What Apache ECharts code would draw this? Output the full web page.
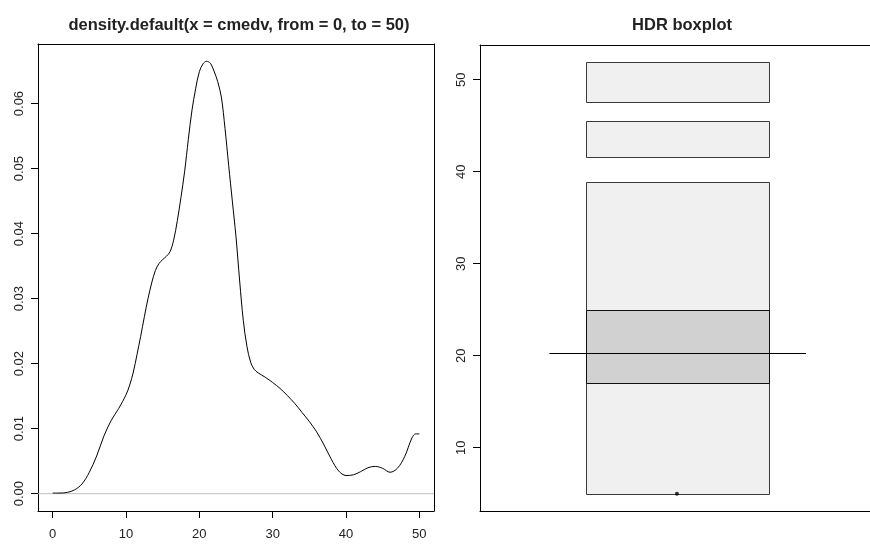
<!DOCTYPE html>
<html>
<head>
<meta charset="utf-8">
<script src="https://cdn.jsdelivr.net/npm/echarts@6/dist/echarts.min.js"></script>
<style>
  html, body { margin: 0; padding: 0; background: #ffffff; }
  #chart { width: 870px; height: 545px; }
</style>
</head>
<body>
<div id="chart"></div>
<script>
// Kernel density estimate of cmedv, evaluated on [0, 50]
const densityX = [0, 1, 2, 3, 4, 5, 6, 7, 8, 9, 10, 10.5, 11, 11.5, 12, 12.5, 13, 13.5, 14, 14.5,
  15, 15.5, 16, 16.5, 17, 17.5, 18, 18.5, 19, 19.5, 20, 20.5, 21, 21.5, 22, 22.5, 23, 23.5, 24, 24.5,
  25, 25.5, 26, 26.5, 27, 27.5, 28, 29, 30, 31, 32, 33, 34, 35, 36, 37, 38, 39, 40, 41,
  42, 43, 44, 45, 46, 47, 48, 49, 49.5, 50];
const densityY = [0.0001, 0.0001, 0.0002, 0.0006, 0.0015, 0.0033, 0.0058, 0.0089, 0.0113, 0.0131, 0.0152, 0.0167, 0.0187, 0.0214, 0.0242, 0.0272, 0.0300, 0.0324, 0.0343, 0.0354,
  0.0360, 0.0365, 0.0372, 0.0390, 0.0420, 0.0456, 0.0496, 0.0545, 0.0590, 0.0623, 0.0649, 0.0661, 0.0665, 0.0662, 0.0650, 0.0634, 0.0610, 0.0562, 0.0505, 0.0450,
  0.0395, 0.0327, 0.0266, 0.0226, 0.0202, 0.0191, 0.0186, 0.0179, 0.0171, 0.0162, 0.0151, 0.0139, 0.0125, 0.0111, 0.0095, 0.0075, 0.0053, 0.0035, 0.0028, 0.0029,
  0.0034, 0.0040, 0.0042, 0.0039, 0.0033, 0.0039, 0.0057, 0.0086, 0.0092, 0.0092];

// Axis ticks
const densityXTicks = [0, 10, 20, 30, 40, 50];
const densityYTicks = [0, 0.01, 0.02, 0.03, 0.04, 0.05, 0.06];
const hdrYTicks = [10, 20, 30, 40, 50];

// HDR boxplot regions: [lower, upper]
const hdr99Regions = [[5.0, 38.9], [41.6, 45.5], [47.6, 51.9]];
const hdr50Regions = [[17.0, 25.0]];
const hdrMode = [20.35];
const hdrOutliers = [5.0];

const densityTitle = 'density.default(x = cmedv, from = 0, to = 50)';
const hdrTitle = 'HDR boxplot';

const FONT = '"Liberation Sans", Arial, Helvetica, sans-serif';
const labelStyle = { color: '#222', fontSize: 13, fontFamily: FONT };
const frameLine = { show: true, onZero: false, lineStyle: { color: '#000', width: 1 } };
const titleStyle = { fontFamily: FONT, fontSize: 16.5, fontWeight: 'bold', color: '#222' };

// Density range padded by 4% like R's default axis extent
const dMax = Math.max(...densityY);
const yPad = dMax * 0.04;
const hdrLo = 5.0, hdrHi = 51.9, hdrPad = (hdrHi - hdrLo) * 0.04;

// Box horizontal placement in the unit-wide boxplot axis
const BOX_L = 0.272, BOX_R = 0.740, MODE_L = 0.178, MODE_R = 0.836, CENTER = 0.505;

function boxRenderer(fill, stroke) {
  return function (params, api) {
    const lo = api.value(0), hi = api.value(1);
    const a = api.coord([BOX_L, hi]);
    const b = api.coord([BOX_R, lo]);
    const x0 = Math.round(a[0]) + 0.5, y0 = Math.round(a[1]) + 0.5;
    const x1 = Math.round(b[0]) + 0.5, y1 = Math.round(b[1]) + 0.5;
    return {
      type: 'rect',
      shape: { x: x0, y: y0, width: x1 - x0, height: y1 - y0 },
      style: { fill: fill, stroke: stroke, lineWidth: 1 }
    };
  };
}

const chart = echarts.init(document.getElementById('chart'), null, { renderer: 'canvas' });

chart.setOption({
  animation: false,
  backgroundColor: '#ffffff',
  title: [
    { text: densityTitle, left: 234, top: 12, textAlign: 'center', textStyle: titleStyle },
    { text: hdrTitle, left: 677, top: 12, textAlign: 'center', textStyle: titleStyle }
  ],
  grid: [
    { left: 38, right: 436, top: 44, bottom: 34 },
    { left: 480, right: 0, top: 45, bottom: 34 }
  ],
  xAxis: [
    { gridIndex: 0, type: 'value', position: 'bottom', min: -2, max: 52,
      axisLine: frameLine,
      axisTick: { show: true, length: 7, customValues: densityXTicks, lineStyle: { color: '#000' } },
      axisLabel: Object.assign({ margin: 17, customValues: densityXTicks, formatter: v => String(v) }, labelStyle),
      splitLine: { show: false } },
    { gridIndex: 0, type: 'value', position: 'top', min: -2, max: 52,
      axisLine: frameLine, axisTick: { show: false }, axisLabel: { show: false }, splitLine: { show: false } },
    { gridIndex: 1, type: 'value', position: 'bottom', min: 0, max: 1,
      axisLine: frameLine, axisTick: { show: false }, axisLabel: { show: false }, splitLine: { show: false } },
    { gridIndex: 1, type: 'value', position: 'top', min: 0, max: 1,
      axisLine: frameLine, axisTick: { show: false }, axisLabel: { show: false }, splitLine: { show: false } }
  ],
  yAxis: [
    { gridIndex: 0, type: 'value', position: 'left', min: -yPad, max: dMax + yPad,
      axisLine: frameLine,
      axisTick: { show: true, length: 7, customValues: densityYTicks, lineStyle: { color: '#000' } },
      axisLabel: Object.assign({ margin: 12, rotate: 90, customValues: densityYTicks, formatter: v => v.toFixed(2) }, labelStyle),
      splitLine: { show: false } },
    { gridIndex: 0, type: 'value', position: 'right', min: -yPad, max: dMax + yPad,
      axisLine: frameLine, axisTick: { show: false }, axisLabel: { show: false }, splitLine: { show: false } },
    { gridIndex: 1, type: 'value', position: 'left', min: hdrLo - hdrPad, max: hdrHi + hdrPad,
      axisLine: frameLine,
      axisTick: { show: true, length: 7, customValues: hdrYTicks, lineStyle: { color: '#000' } },
      axisLabel: Object.assign({ margin: 12, rotate: 90, customValues: hdrYTicks, formatter: v => String(v) }, labelStyle),
      splitLine: { show: false } }
  ],
  series: [
    { // zero reference line
      type: 'line', xAxisIndex: 0, yAxisIndex: 0, symbol: 'none', silent: true,
      data: [[-2, 0], [52, 0]],
      lineStyle: { color: '#bebebe', width: 1 }
    },
    {
      type: 'line', xAxisIndex: 0, yAxisIndex: 0, symbol: 'none', smooth: 0.35,
      data: densityX.map((x, i) => [x, densityY[i]]),
      lineStyle: { color: '#000', width: 1 }
    },
    {
      type: 'custom', xAxisIndex: 2, yAxisIndex: 2,
      data: hdr99Regions,
      renderItem: boxRenderer('#f0f0f0', '#3a3a3a')
    },
    {
      type: 'custom', xAxisIndex: 2, yAxisIndex: 2,
      data: hdr50Regions,
      renderItem: boxRenderer('#d1d1d1', '#111')
    },
    {
      type: 'custom', xAxisIndex: 2, yAxisIndex: 2,
      data: hdrMode.map(m => [m]),
      renderItem: function (params, api) {
        const m = api.value(0);
        const a = api.coord([MODE_L, m]);
        const b = api.coord([MODE_R, m]);
        const y = Math.round(a[1]) + 0.5;
        return { type: 'line', shape: { x1: a[0], y1: y, x2: b[0], y2: y },
          style: { stroke: '#000', lineWidth: 1 } };
      }
    },
    {
      type: 'scatter', xAxisIndex: 2, yAxisIndex: 2, symbol: 'circle', symbolSize: 4,
      data: hdrOutliers.map(v => [CENTER, v]),
      itemStyle: { color: '#000' }
    }
  ]
});
</script>
</body>
</html>
